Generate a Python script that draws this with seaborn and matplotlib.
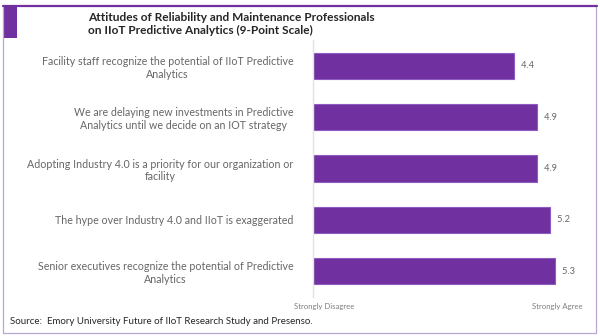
import matplotlib
matplotlib.use("Agg")
import matplotlib.pyplot as plt
import matplotlib.patches as mpatches
import seaborn as sns
import pandas as pd

statements = [
    "Facility staff recognize the potential of IIoT Predictive\nAnalytics",
    "We are delaying new investments in Predictive\nAnalytics until we decide on an IOT strategy",
    "Adopting Industry 4.0 is a priority for our organization or\nfacility",
    "The hype over Industry 4.0 and IIoT is exaggerated",
    "Senior executives recognize the potential of Predictive\nAnalytics",
]
scores = [4.4, 4.9, 4.9, 5.2, 5.3]
scale_labels = ["Strongly Disagree", "Strongly Agree"]
title = "Attitudes of Reliability and Maintenance Professionals\non IIoT Predictive Analytics (9-Point Scale)"
source = "Source:  Emory University Future of IIoT Research Study and Presenso."

df = pd.DataFrame({"statement": statements, "score": scores})

sns.set_style("white")
plt.rcParams["font.family"] = ["Lato", "DejaVu Sans"]

W, H = 600, 336
fig = plt.figure(figsize=(6, 3.36), dpi=100)

def fx(px):
    return px / W

def fy(py):
    return 1 - py / H

PURPLE = "#7030A0"
ax = fig.add_axes([fx(313), fy(297), fx(587) - fx(313), fy(40) - fy(297)])
sns.barplot(data=df, x="score", y="statement", orient="h", color=PURPLE,
            width=0.51, edgecolor="#8E5CC0", linewidth=0.8, saturation=1, ax=ax)
ax.set_xlim(0, 6)
ax.set_ylim(4.5, -0.5)
ax.set_xlabel("")
ax.set_ylabel("")
ax.set_xticks([])
for s in ["top", "right", "bottom"]:
    ax.spines[s].set_visible(False)
ax.spines["left"].set_color("#e3e3e3")
ax.spines["left"].set_linewidth(1.0)
ax.tick_params(axis="y", length=0, pad=14)
for lbl in ax.get_yticklabels():
    lbl.set_multialignment("center")
    lbl.set_fontsize(7.7)
    lbl.set_color("#666666")

for i, v in enumerate(scores):
    ax.text(v, i, f"   {v:.1f}", va="center", ha="left", fontsize=6.6, color="#666666")

# scale end labels
fig.text(fx(324), fy(306), scale_labels[0], ha="center", va="center", fontsize=5.6, color="#7f7f7f")
fig.text(fx(557), fy(306), scale_labels[1], ha="center", va="center", fontsize=5.6, color="#7f7f7f")

# title
fig.text(fx(88), fy(24), title, ha="left", va="center", fontsize=8.6, fontweight="bold",
         color="#262626", linespacing=1.25)

# source
fig.text(fx(10), fy(322), source, ha="left", va="center", fontsize=7.0, color="#262626")

# frame
border = "#B9A6D3"
fig.add_artist(plt.Line2D([fx(3), fx(3)], [fy(5), fy(333)], color=border, lw=0.9, transform=fig.transFigure))
fig.add_artist(plt.Line2D([fx(596), fx(596)], [fy(5), fy(333)], color=border, lw=0.9, transform=fig.transFigure))
fig.add_artist(plt.Line2D([fx(3), fx(596)], [fy(333), fy(333)], color=border, lw=0.9, transform=fig.transFigure))
fig.add_artist(plt.Line2D([fx(3), fx(597)], [fy(5.5), fy(5.5)], color=PURPLE, lw=1.6, transform=fig.transFigure))
fig.add_artist(mpatches.Rectangle((fx(3), fy(38)), fx(17) - fx(3), fy(5) - fy(38),
                                  facecolor=PURPLE, edgecolor="none", transform=fig.transFigure))

fig.savefig("out.png", dpi=100)
